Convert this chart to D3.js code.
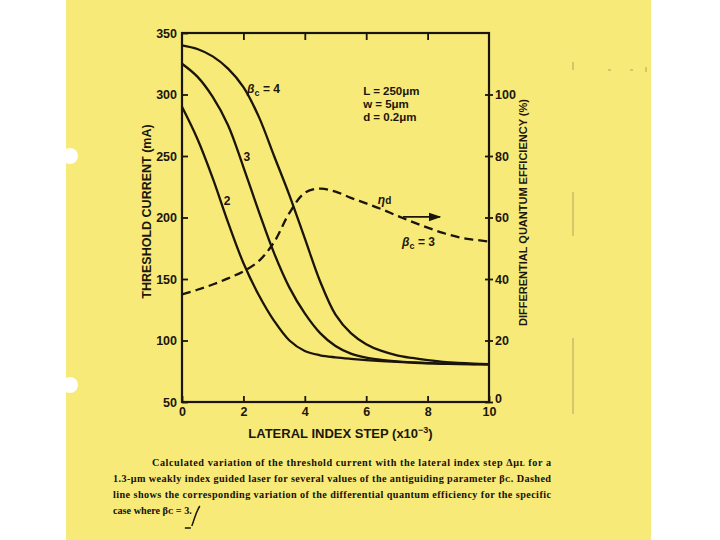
<!DOCTYPE html>
<html>
<head>
<meta charset="utf-8">
<script src="https://cdn.jsdelivr.net/npm/d3@7"></script>
<style>
  body { margin: 0; background: #fff; }
  svg { display: block; }
  .ax text { font-family: "Liberation Sans", Arial, sans-serif; font-weight: bold; font-size: 12.5px; fill: #1c160b; }
  .lbl { font-family: "Liberation Sans", Arial, sans-serif; font-weight: bold; fill: #1c160b; }
  .cap { font-family: "Liberation Serif", "Times New Roman", serif; font-weight: bold; font-size: 10.2px; fill: #15110a; }
</style>
</head>
<body>
<div id="chart"></div>
<script>
// lateral index step, x10^-3
const steps = [0, 0.5, 1, 1.5, 2, 2.5, 3, 3.5, 4, 4.5, 5, 5.5, 6, 6.5, 7, 7.5, 8, 8.5, 9, 9.5, 10];

// threshold current (mA) for beta_c = 2, 3, 4
const ithBeta2 = [290, 264, 232, 196, 163, 137, 116, 100, 91.5, 88, 86.3, 85.1, 84.1, 83.3, 82.6, 82, 81.5, 81.1, 80.9, 80.7, 80.6];
const ithBeta3 = [325, 314.5, 298, 275, 241, 205, 171, 143, 122, 106, 95.5, 89.3, 86, 84.2, 83, 82.2, 81.6, 81.2, 81, 80.8, 80.7];
const ithBeta4 = [340, 337, 331, 321, 306, 282, 250, 218, 183, 148, 121, 106, 97, 91.5, 88, 85.8, 84, 82.7, 81.8, 81.2, 80.8];

// differential quantum efficiency (%) for beta_c = 3
const etaBeta3 = [35, 36.5, 38.2, 40.2, 42.5, 45.8, 52, 61.5, 68, 69.4, 68.4, 66.4, 64.6, 62.7, 60.6, 58.6, 56.7, 55, 53.6, 52.8, 52.2];

const leftTicks = [50, 100, 150, 200, 250, 300, 350];
const rightTicks = [0, 20, 40, 60, 80, 100];
const bottomTicks = [0, 2, 4, 6, 8, 10];
const topTicks = [2, 4, 6, 8];

const captionLines = [
  "Calculated variation of the threshold current with the lateral index step \u0394\u03bc\u029f for a",
  "1.3-\u03bcm weakly index guided laser for several values of the antiguiding parameter \u03b2\u1d04. Dashed",
  "line shows the corresponding variation of the differential quantum efficiency for the specific",
  "case where \u03b2\u1d04 = 3."
];

const W = 720, H = 540;
const ink = "#1b1509";
const plot = {left: 182, right: 489, top: 33, bottom: 402};

const svg = d3.select("#chart").append("svg")
    .attr("width", W)
    .attr("height", H);

// scanned page
svg.append("rect").attr("x", 66).attr("y", 0).attr("width", 585).attr("height", H).attr("fill", "#f7ea79");
svg.append("circle").attr("cx", 70).attr("cy", 156).attr("r", 8).attr("fill", "#fff");
svg.append("circle").attr("cx", 70).attr("cy", 385).attr("r", 8).attr("fill", "#fff");
// scan specks / faint line on the right
svg.append("path").attr("d", "M573,192V236M573,338V414M573,62V70")
    .attr("stroke", "#6b6240").attr("stroke-width", 1).attr("opacity", 0.5);
svg.append("path").attr("d", "M608,70h3M630,70h3M646,67v5")
    .attr("stroke", "#6b6240").attr("stroke-width", 1).attr("opacity", 0.5);

const x = d3.scaleLinear().domain([0, 10]).range([plot.left, plot.right]);
const yL = d3.scaleLinear().domain([50, 350]).range([plot.bottom, plot.top]);
const yR = d3.scaleLinear().domain([0, 120]).range([plot.bottom, plot.top]);

// axes
const gl = svg.append("g").attr("class", "ax").attr("transform", `translate(${plot.left},0)`)
    .call(d3.axisLeft(yL).tickValues(leftTicks).tickSizeInner(-6).tickSizeOuter(0).tickPadding(4));
gl.selectAll(".tick text").attr("dx", -1);

const gr = svg.append("g").attr("class", "ax").attr("transform", `translate(${plot.right},0)`)
    .call(d3.axisRight(yR).tickValues(rightTicks).tickSizeInner(4).tickSizeOuter(0).tickPadding(2));
gr.selectAll(".tick line").attr("x1", -4);
gr.selectAll(".tick text").attr("dy", d => d === 0 ? "0.05em" : "0.32em");

svg.append("g").attr("class", "ax").attr("transform", `translate(0,${plot.bottom})`)
    .call(d3.axisBottom(x).tickValues(bottomTicks).tickSizeInner(-6).tickSizeOuter(0).tickPadding(5));

svg.append("g").attr("class", "ax").attr("transform", `translate(0,${plot.top})`)
    .call(d3.axisTop(x).tickValues(topTicks).tickSizeInner(-7).tickSizeOuter(0).tickFormat(""));

svg.selectAll(".ax .domain").remove();
svg.selectAll(".ax .tick line").attr("stroke", ink).attr("stroke-width", 1.8);

svg.append("rect")
    .attr("x", plot.left).attr("y", plot.top)
    .attr("width", plot.right - plot.left).attr("height", plot.bottom - plot.top)
    .attr("fill", "none").attr("stroke", ink).attr("stroke-width", 2.2);

// curves
const smooth = d3.curveCatmullRom.alpha(0.5);
const lineL = d3.line().x((d, i) => x(steps[i])).y(d => yL(d)).curve(smooth);
const lineR = d3.line().x((d, i) => x(steps[i])).y(d => yR(d)).curve(smooth);

[ithBeta2, ithBeta3, ithBeta4].forEach(s => {
  svg.append("path").datum(s).attr("d", lineL)
      .attr("fill", "none").attr("stroke", ink).attr("stroke-width", 2.3);
});

svg.append("path").datum(etaBeta3).attr("d", lineR)
    .attr("fill", "none").attr("stroke", ink).attr("stroke-width", 2.3)
    .attr("stroke-dasharray", "9,5");

// in-plot labels
function beta(gx, gy, rest, size) {
  const t = svg.append("text").attr("class", "lbl").attr("x", gx).attr("y", gy).attr("font-size", size);
  t.append("tspan").attr("font-style", "italic").text("\u03b2");
  t.append("tspan").attr("font-size", size * 0.75).attr("dy", 3).text("c");
  t.append("tspan").attr("dy", -3).text(rest);
}
beta(x(2.12), yL(301), " = 4", 12);
beta(x(7.17), yL(177), " = 3", 12);

svg.append("text").attr("class", "lbl").attr("font-size", 12).attr("x", x(2.0)).attr("y", yL(246)).text("3");
svg.append("text").attr("class", "lbl").attr("font-size", 12).attr("x", x(1.36)).attr("y", yL(210)).text("2");

const params = ["L = 250\u03bcm", "w = 5\u03bcm", "d = 0.2\u03bcm"];
params.forEach((p, i) => {
  svg.append("text").attr("class", "lbl").attr("font-size", 11.5)
      .attr("x", x(5.9)).attr("y", yL(300) + i * 13).text(p);
});

const eta = svg.append("text").attr("class", "lbl").attr("font-size", 12)
    .attr("x", x(6.38)).attr("y", yR(64.4));
eta.append("tspan").attr("font-style", "italic").text("\u03b7");
eta.append("tspan").attr("font-size", 10).text("d");

// arrow pointing to the right axis
svg.append("defs").append("marker")
    .attr("id", "ah").attr("viewBox", "0 0 10 10").attr("refX", 9).attr("refY", 5)
    .attr("markerWidth", 7).attr("markerHeight", 7).attr("orient", "auto")
  .append("path").attr("d", "M0,1.5L10,5L0,8.5Z").attr("fill", ink);
svg.append("line")
    .attr("x1", x(7.2)).attr("x2", x(8.4)).attr("y1", yR(60.2)).attr("y2", yR(60.2))
    .attr("stroke", ink).attr("stroke-width", 1.8).attr("marker-end", "url(#ah)");

// axis titles
svg.append("text").attr("class", "lbl").attr("font-size", 12.5)
    .attr("transform", `translate(151,${(plot.top + plot.bottom) / 2 - 6}) rotate(-90)`)
    .attr("text-anchor", "middle").text("THRESHOLD CURRENT (mA)");

svg.append("text").attr("class", "lbl").attr("font-size", 11)
    .attr("transform", `translate(527,${(plot.top + plot.bottom) / 2 - 5}) rotate(-90)`)
    .attr("text-anchor", "middle").text("DIFFERENTIAL QUANTUM EFFICIENCY (%)");

const xt = svg.append("text").attr("class", "lbl").attr("font-size", 13)
    .attr("x", (plot.left + plot.right) / 2 + 5).attr("y", 438).attr("text-anchor", "middle");
xt.append("tspan").text("LATERAL INDEX STEP (x10");
xt.append("tspan").attr("font-size", 9).attr("dy", -5).text("\u22123");
xt.append("tspan").attr("dy", 5).text(")");

// caption, justified like the print
const capX = [152, 113, 113, 113];
const capEnd = 551;
let lastEnd = 0;
captionLines.forEach((c, i) => {
  const t = svg.append("text").attr("class", "cap").attr("x", capX[i]).attr("y", 466 + i * 16).text(c);
  if (i < 3) t.attr("textLength", capEnd - capX[i]).attr("lengthAdjust", "spacing");
  else lastEnd = capX[i] + t.node().getComputedTextLength();
});
// handwritten tick after the caption
svg.append("path")
    .attr("d", `M${lastEnd + 8},506 C${lastEnd + 4},512 ${lastEnd + 3},518 ${lastEnd},526 M${lastEnd - 7},528h6`)
    .attr("fill", "none").attr("stroke", ink).attr("stroke-width", 1.5);
</script>
</body>
</html>
